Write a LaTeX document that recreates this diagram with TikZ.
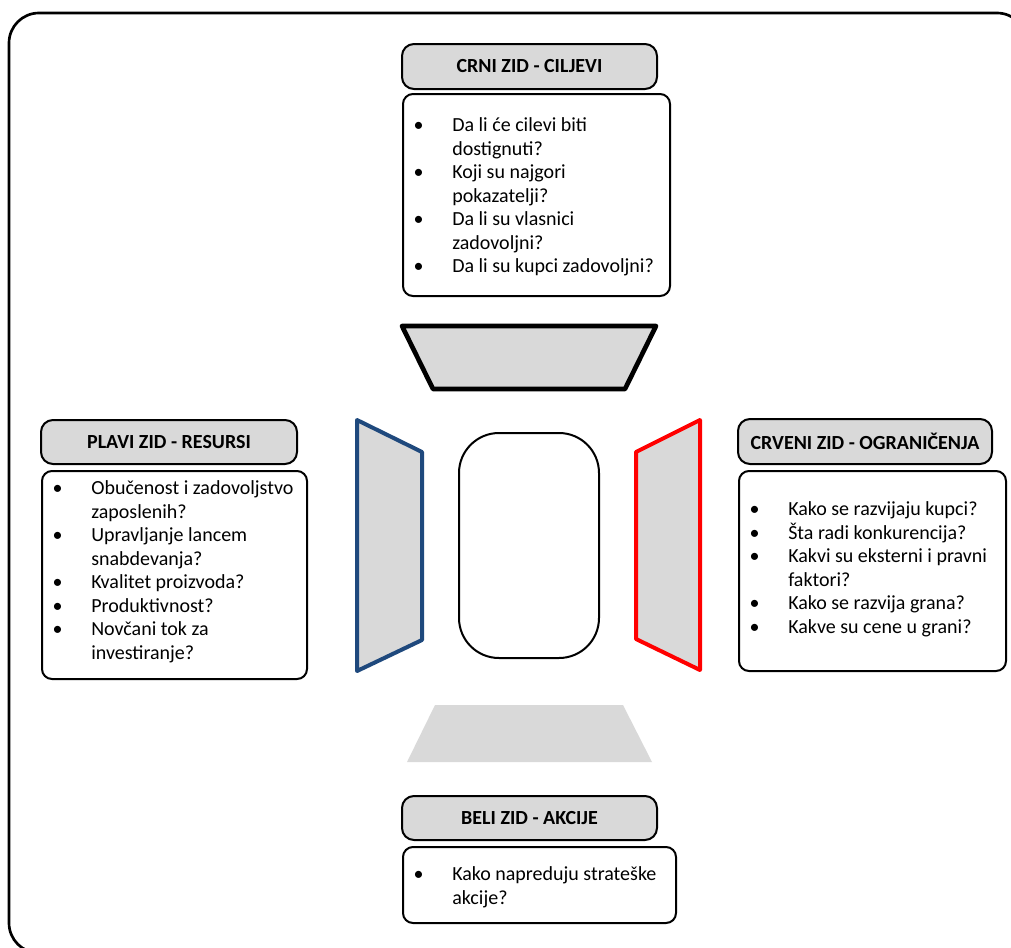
\documentclass[tikz,border=0pt]{standalone}
\usepackage{fontspec}
\setmainfont{Carlito}

\definecolor{wallgray}{RGB}{217,217,217}
\definecolor{wallblue}{RGB}{31,73,125}
\definecolor{wallred}{RGB}{255,0,0}

\newcommand{\wallfont}{\fontsize{15}{17.6}\selectfont}
\newcommand{\nl}{\hfil\break}
\newcommand{\wallitem}[1]{\par\parskip=0pt\spaceskip=0pt\xspaceskip=0pt\hangindent=37.5pt\hangafter=1\noindent\makebox[37.5pt][l]{\hspace{8.5pt}\textbullet}#1}

\tikzset{
  titlebox/.style={draw, line width=1.5pt, rounded corners=9pt, fill=wallgray, inner sep=0pt, font=\wallfont\bfseries},
  listbox/.style={draw, line width=1.5pt, rounded corners=7.5pt, fill=white, inner sep=0pt, anchor=north west},
  listtext/.style={align=left, inner sep=0pt, anchor=north west, font=\wallfont},
}

\begin{document}
\begin{tikzpicture}[x=0.75pt,y=0.75pt,yscale=-1,xscale=1]
\useasboundingbox (0,0) rectangle (1011,947);

%Shape: Rounded Rect (frame)
\draw [line width=2pt, rounded corners=22.5pt] (9,13) rectangle (1027,953);

%Shape: Trapezoid (black wall)
\draw [line width=3.5pt, line join=round, fill=wallgray] (402,326) -- (656,326) -- (625,389) -- (433,389) -- cycle ;
%Shape: Trapezoid (blue wall)
\draw [line width=3pt, line join=round, draw=wallblue, fill=wallgray] (357,420) -- (422,452) -- (422,640) -- (357,671) -- cycle ;
%Shape: Trapezoid (red wall)
\draw [line width=3pt, line join=round, draw=wallred, fill=wallgray] (700,420) -- (636,452) -- (636,639) -- (700,670) -- cycle ;
%Shape: Trapezoid (white wall)
\fill [wallgray] (435,705) -- (623,705) -- (652,762) -- (407,762) -- cycle ;
%Shape: Rounded Rect (centre)
\draw [line width=1.5pt, rounded corners=30pt] (459,433) rectangle (599,658) ;

% Text Node
\node [titlebox, minimum width=191.25pt, minimum height=33.75pt] (crniTitle) at (529.5,66.5) {CRNI ZID - CILJEVI};
%Shape: Rectangle
\node [listbox, minimum width=200.25pt, minimum height=151.5pt] (crniBox) at (402,93) {};
% Text Node
\node [listtext, text width=200.25pt] (crniList) at ([yshift=11.25pt]crniBox.north west) {%
\wallitem{Da li će cilevi biti\nl dostignuti?}
\wallitem{Koji su najgori\nl pokazatelji?}
\wallitem{Da li su vlasnici\nl zadovoljni?}
\wallitem{Da li su kupci zadovoljni?}\par};

% Text Node
\node [titlebox, minimum width=192pt, minimum height=33pt] (plaviTitle) at (169,442) {PLAVI ZID - RESURSI};
%Shape: Rectangle
\node [listbox, minimum width=198.75pt, minimum height=156pt] (plaviBox) at (41,470) {};
% Text Node
\node [listtext, text width=198.75pt] (plaviList) at ([yshift=0.75pt]plaviBox.north west) {%
\wallitem{Obučenost i zadovoljstvo\nl zaposlenih?}
\wallitem{Upravljanje lancem\nl snabdevanja?}
\wallitem{Kvalitet proizvoda?}
\wallitem{Produktivnost?}
\wallitem{Novčani tok za\nl investiranje?}\par};

% Text Node
\node [titlebox, minimum width=190.5pt, minimum height=33.75pt] (crveniTitle) at (865,441.5) {CRVENI ZID - OGRANIČENJA};
%Shape: Rectangle
\node [listbox, minimum width=200.25pt, minimum height=150pt] (crveniBox) at (738,470) {};
% Text Node
\node [listtext, text width=200.25pt] (crveniList) at ([yshift=16.5pt]crveniBox.north west) {%
\wallitem{Kako se razvijaju kupci?}
\wallitem{Šta radi konkurencija?}
\wallitem{Kakvi su eksterni i pravni\nl faktori?}
\wallitem{Kako se razvija grana?}
\wallitem{Kakve su cene u grani?}\par};

% Text Node
\node [titlebox, minimum width=191.25pt, minimum height=33pt] (beliTitle) at (529.5,818) {BELI ZID - AKCIJE};
%Shape: Rectangle
\node [listbox, minimum width=204.75pt, minimum height=57pt] (beliBox) at (402,846) {};
% Text Node
\node [listtext, text width=204.75pt] (beliList) at ([yshift=8.25pt]beliBox.north west) {%
\wallitem{Kako napreduju strateške\nl akcije?}\par};

\end{tikzpicture}
\end{document}
